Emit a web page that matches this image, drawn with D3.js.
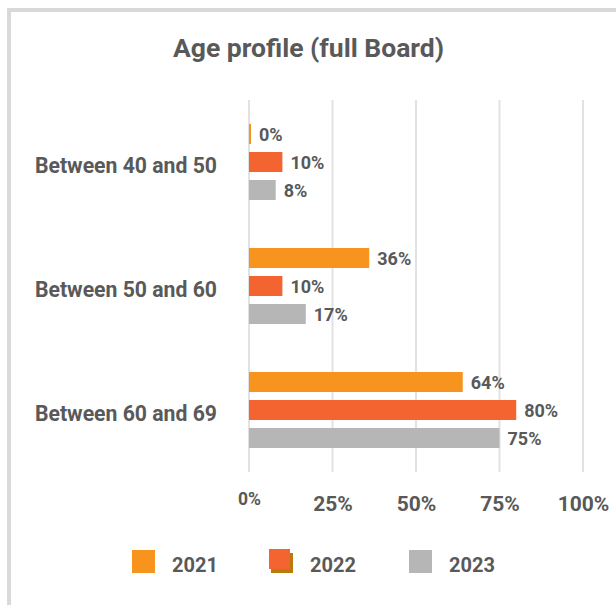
<!DOCTYPE html>
<html>
<head>
<meta charset="utf-8">
<script src="https://cdn.jsdelivr.net/npm/d3@7"></script>
<style>
  html, body { margin: 0; padding: 0; background: #fff; }
  svg { display: block; font-family: Roboto, "Noto Sans", sans-serif; }
</style>
</head>
<body>
<svg id="chart" width="616" height="605"></svg>
<script>
// Board members by age band, share of the full Board per year
const categories = ["Between 40 and 50", "Between 50 and 60", "Between 60 and 69"];
const years = ["2021", "2022", "2023"];
const values2021 = [0.00, 0.36, 0.64];
const values2022 = [0.10, 0.10, 0.80];
const values2023 = [0.08, 0.17, 0.75];
const tickValues = [0, 0.25, 0.5, 0.75, 1];
const colors = ["#F7941D", "#F36430", "#B6B6B6"];

const series = [values2021, values2022, values2023];
const textColor = "#595959";

const svg = d3.select("#chart");

// outer frame (runs past the right and bottom edges)
svg.append("rect")
  .attr("x", 9).attr("y", 10)
  .attr("width", 800).attr("height", 800)
  .attr("fill", "#fff")
  .attr("stroke", "#D9D9D9")
  .attr("stroke-width", 4);

svg.append("text")
  .attr("x", 308.5).attr("y", 57)
  .attr("text-anchor", "middle")
  .attr("fill", textColor)
  .style("font-size", "26.5px")
  .style("font-weight", "bold")
  .text("Age profile (full Board)");

const x = d3.scaleLinear().domain([0, 1]).range([249, 583]);
const y0 = d3.scaleBand().domain(categories).range([100, 472]).padding(0);
const y1 = d3.scaleBand().domain(years).range([24, 100]).paddingInner(8 / 28).paddingOuter(0);

// vertical gridlines
svg.append("g").selectAll("line")
  .data(tickValues)
  .join("line")
  .attr("x1", d => x(d)).attr("x2", d => x(d))
  .attr("y1", 100).attr("y2", 472)
  .attr("stroke", "#E2E2E2")
  .attr("stroke-width", 2);

// x-axis tick labels
const xAxis = d3.axisBottom(x).tickValues(tickValues).tickFormat(d3.format(".0%")).tickSize(0).tickPadding(0);
const gx = svg.append("g").attr("transform", "translate(0,496)").call(xAxis);
gx.select(".domain").remove();
gx.selectAll("text")
  .attr("fill", textColor)
  .style("font-family", "Roboto, sans-serif")
  .style("font-weight", "bold")
  .style("font-size", (d, i) => i === 0 ? "17.5px" : "21px")
  .attr("dy", (d, i) => i === 0 ? "0.5em" : "0.71em");

// category labels
const yAxis = d3.axisLeft(y0).tickSize(0).tickPadding(0);
const gy = svg.append("g").attr("transform", "translate(217,0)").call(yAxis);
gy.select(".domain").remove();
gy.selectAll("text")
  .attr("fill", textColor)
  .attr("dy", "0.5em")
  .style("font-family", "Roboto, sans-serif")
  .style("font-weight", "bold")
  .style("font-size", "21.2px");

// bars and value labels
const rows = [];
categories.forEach((c, ci) => {
  years.forEach((yr, si) => rows.push({ cat: c, year: yr, si, value: series[si][ci] }));
});

const groups = svg.append("g").selectAll("g")
  .data(categories)
  .join("g")
  .attr("transform", d => `translate(0,${y0(d)})`);

groups.selectAll("rect")
  .data(c => rows.filter(r => r.cat === c))
  .join("rect")
  .attr("x", x(0))
  .attr("y", d => y1(d.year))
  .attr("width", d => Math.max(2, x(d.value) - x(0)))
  .attr("height", y1.bandwidth())
  .attr("fill", d => colors[d.si]);

groups.selectAll("text")
  .data(c => rows.filter(r => r.cat === c))
  .join("text")
  .attr("x", d => Math.max(x(d.value), x(0) + 2) + 8)
  .attr("y", d => y1(d.year) + y1.bandwidth() / 2)
  .attr("dy", "0.38em")
  .attr("fill", textColor)
  .style("font-weight", "bold")
  .style("font-size", "18px")
  .text(d => d3.format(".0%")(d.value));

// legend
const legendX = [132, 270, 409];
const legend = svg.append("g").selectAll("g")
  .data(years)
  .join("g")
  .attr("transform", (d, i) => `translate(${legendX[i]},550)`);

legend.filter((d, i) => i === 1)
  .append("rect")
  .attr("x", 1).attr("y", 3)
  .attr("width", 22).attr("height", 20)
  .attr("fill", "#B97A0E");

legend.append("rect")
  .attr("x", (d, i) => i === 1 ? -1 : 0)
  .attr("y", (d, i) => i === 1 ? -1 : 0)
  .attr("width", (d, i) => i === 1 ? 21 : 23)
  .attr("height", (d, i) => i === 1 ? 20 : 23)
  .attr("fill", (d, i) => colors[i]);

legend.append("text")
  .attr("x", 40)
  .attr("y", 22)
  .attr("fill", textColor)
  .style("font-weight", "bold")
  .style("font-size", "20px")
  .text(d => d);
</script>
</body>
</html>
